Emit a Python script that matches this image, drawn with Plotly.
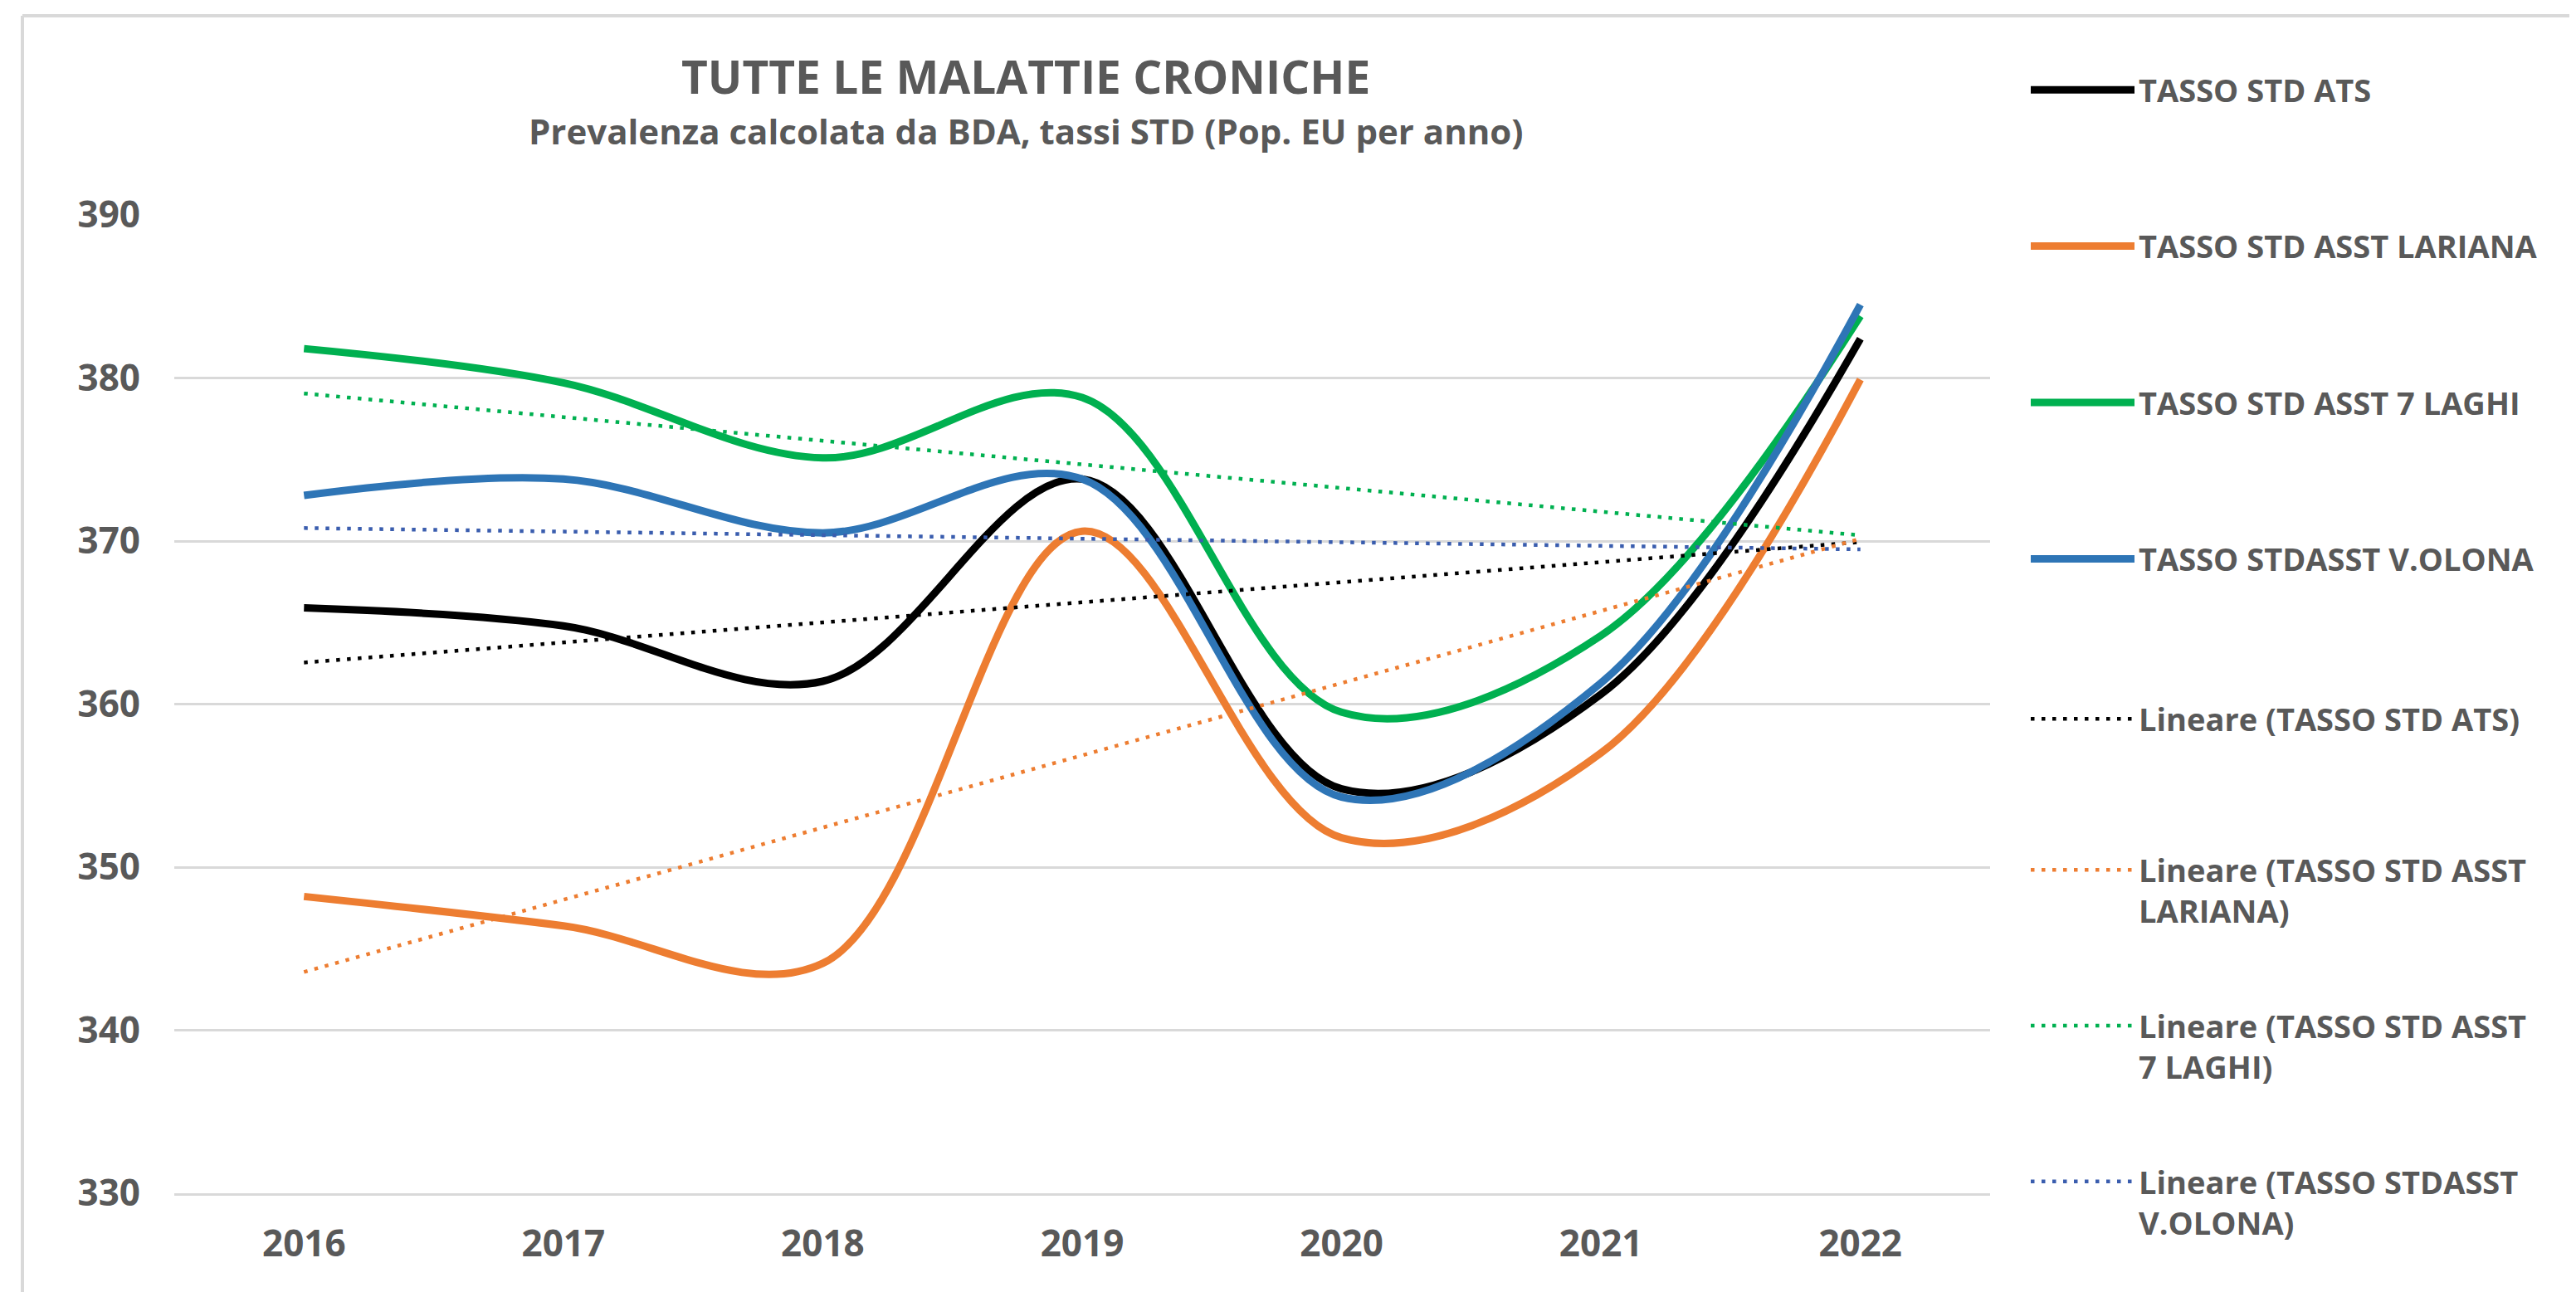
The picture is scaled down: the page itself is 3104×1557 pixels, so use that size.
import plotly.graph_objects as go
import numpy as np

# ---- data ----
years = ["2016", "2017", "2018", "2019", "2020", "2021", "2022"]
ats = [365.9, 364.8, 361.4, 373.8, 354.8, 360.6, 382.4]
lariana = [348.2, 346.4, 344.1, 370.6, 351.8, 357.0, 379.9]
laghi = [381.8, 379.7, 375.1, 378.8, 359.5, 364.2, 383.8]
olona = [372.8, 373.8, 370.5, 373.8, 354.3, 361.3, 384.5]

series_names = ["TASSO STD ATS", "TASSO STD ASST LARIANA", "TASSO STD ASST 7 LAGHI", "TASSO STDASST V.OLONA"]
trend_names = ["Lineare (TASSO STD ATS)", "Lineare (TASSO STD ASST<br>LARIANA)",
               "Lineare (TASSO STD ASST<br>7 LAGHI)", "Lineare (TASSO STDASST<br>V.OLONA)"]
series_values = [ats, lariana, laghi, olona]
colors = ["#000000", "#ED7D31", "#00B050", "#2E75B6"]
trend_colors = ["#000000", "#ED7D31", "#00B050", "#3A5DAE"]

TXT = "#595959"
FONT = "Open Sans"
W, H = 3104, 1557
L, R, T, B = 202, 714, 251, 127
PW, PH = W - L - R, H - T - B


def px_x(x):
    return (x - L) / PW


def px_y(y):
    return (H - B - y) / PH


fig = go.Figure()

for name, vals, col in zip(series_names, series_values, colors):
    fig.add_trace(go.Scatter(
        x=years, y=vals, name=name, mode="lines",
        line=dict(color=col, width=9, shape="spline", smoothing=1.0),
        legend="legend", legendgroup=name,
    ))

idx = np.arange(len(years))
for i, (name, vals, col) in enumerate(zip(trend_names, series_values, trend_colors)):
    slope, intercept = np.polyfit(idx, np.array(vals), 1)
    fit = slope * idx + intercept
    fig.add_trace(go.Scatter(
        x=years, y=fit, name=name, mode="lines",
        line=dict(color=col, width=4.5, dash="4.5px,8.5px"),
        legend="legend2" if i == 0 else "legend3", legendgroup=name,
    ))

legend_font = dict(family=FONT, size=38, color=TXT, weight="bold")
leg_common = dict(font=legend_font, bgcolor="rgba(0,0,0,0)", borderwidth=0,
                  itemwidth=125, valign="top", xanchor="left", yanchor="top",
                  traceorder="grouped", itemclick=False)

fig.update_layout(
    width=W, height=H,
    margin=dict(l=L, r=R, t=T, b=B),
    paper_bgcolor="white", plot_bgcolor="white",
    showlegend=True,
    legend=dict(x=px_x(2434), y=px_y(112 - 43), tracegroupgap=136, **leg_common),
    legend2=dict(x=px_x(2434), y=px_y(852 - 25), tracegroupgap=0, **leg_common),
    legend3=dict(x=px_x(2434), y=px_y(1018 - 9), tracegroupgap=86, **leg_common),
    xaxis=dict(
        type="category", range=[-0.5, 6.5], showgrid=False, zeroline=False,
        showline=True, linecolor="#D9D9D9", linewidth=3, ticks="",
        tickfont=dict(family=FONT, size=44, color=TXT, weight="bold"),
        ticklabelstandoff=20,
    ),
    yaxis=dict(
        range=[330, 390], dtick=10, tick0=330, showgrid=True, gridcolor="#D9D9D9", gridwidth=3,
        zeroline=False, showline=False, ticks="",
        tickfont=dict(family=FONT, size=44, color=TXT, weight="bold"),
        ticklabelstandoff=40,
    ),
    annotations=[
        dict(text="TUTTE LE MALATTIE CRONICHE", x=px_x(1228), y=px_y(83), xref="paper", yref="paper",
             showarrow=False, xanchor="center", yanchor="middle",
             font=dict(family=FONT, size=55, color=TXT, weight="bold")),
        dict(text="Prevalenza calcolata da BDA, tassi STD (Pop. EU per anno)", x=px_x(1228), y=px_y(149),
             xref="paper", yref="paper", showarrow=False, xanchor="center", yanchor="middle",
             font=dict(family=FONT, size=42, color=TXT, weight="bold")),
    ],
    shapes=[
        dict(type="line", xref="paper", yref="paper", x0=px_x(19), x1=px_x(W + 10), y0=px_y(11), y1=px_y(11),
             line=dict(color="#D9D9D9", width=4)),
        dict(type="line", xref="paper", yref="paper", x0=px_x(19), x1=px_x(19), y0=px_y(11), y1=px_y(H + 10),
             line=dict(color="#D9D9D9", width=4)),
    ],
)

fig.write_html("out.html")
